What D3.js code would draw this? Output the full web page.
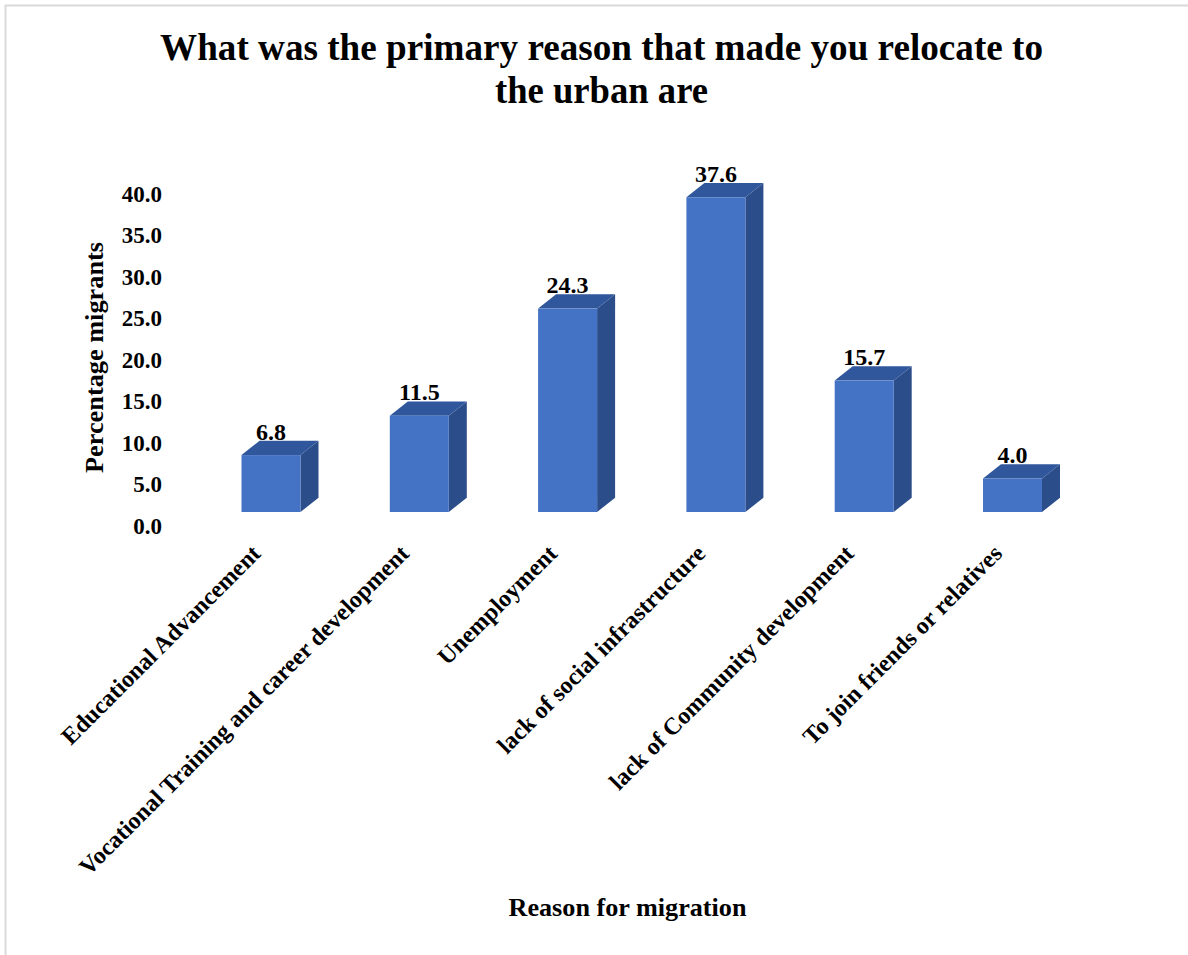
<!DOCTYPE html>
<html>
<head>
<meta charset="utf-8">
<script src="https://cdn.jsdelivr.net/npm/d3@7/dist/d3.min.js"></script>
<style>
  html, body { margin: 0; padding: 0; background: #ffffff; }
  svg { display: block; }
  text { font-family: "Liberation Serif", "Times New Roman", serif; font-weight: bold; fill: #000; }
</style>
</head>
<body>
<script>
// ---- data ----
const categories = [
  "Educational Advancement",
  "Vocational Training and career development",
  "Unemployment",
  "lack of social infrastructure",
  "lack of Community development",
  "To join friends or relatives"
];
const values = [6.8, 11.5, 24.3, 37.6, 15.7, 4.0];
const yTicks = [0, 5, 10, 15, 20, 25, 30, 35, 40];
const titleLines = ["What was the primary reason that made you relocate to", "the urban are"];
const yTitle = "Percentage migrants";
const xTitle = "Reason for migration";

// ---- layout ----
const W = 1188, H = 955;
const svg = d3.select("body").append("svg").attr("width", W).attr("height", H);
svg.append("rect").attr("width", W).attr("height", H).attr("fill", "#fff");

// outer frame (top & left visible)
svg.append("line").attr("x1", 5).attr("x2", W).attr("y1", 5.5).attr("y2", 5.5)
  .attr("stroke", "#d9d9d9").attr("stroke-width", 2);
svg.append("line").attr("x1", 5.5).attr("x2", 5.5).attr("y1", 5).attr("y2", H)
  .attr("stroke", "#d9d9d9").attr("stroke-width", 2);

// scales
const x = d3.scalePoint().domain(categories).range([271, 1012.5]);
const y = d3.scaleLinear().domain([0, 40]).range([512, 177.2]);       // bar front face
const yAxisScale = d3.scaleLinear().domain([0, 40]).range([525, 193]); // axis labels (3D wall)
const bw = 59, dx = 18, dy = 14.3;

// title
svg.append("text").attr("x", 601.5).attr("y", 60).attr("text-anchor", "middle")
  .style("font-size", "37px").attr("textLength", 883).attr("lengthAdjust", "spacingAndGlyphs")
  .text(titleLines[0]);
svg.append("text").attr("x", 601.5).attr("y", 103).attr("text-anchor", "middle")
  .style("font-size", "37px").attr("textLength", 213).attr("lengthAdjust", "spacingAndGlyphs")
  .text(titleLines[1]);

// y axis labels
const yAxis = d3.axisLeft(yAxisScale).tickValues(yTicks).tickFormat(d3.format(".1f")).tickSize(0).tickPadding(0);
const gy = svg.append("g").attr("transform", "translate(162,0)").call(yAxis);
gy.select(".domain").remove();
gy.selectAll("text").style("font-size", "23px").style("font-family", "'Liberation Serif', serif")
  .style("font-weight", "bold").attr("fill", "#000").attr("dy", "0.35em");

// y title
svg.append("text").attr("transform", "translate(103,357.5) rotate(-90)").attr("text-anchor", "middle")
  .style("font-size", "26px").attr("textLength", 231).attr("lengthAdjust", "spacingAndGlyphs")
  .text(yTitle);

// bars (3D)
const data = categories.map((c, i) => ({ c, v: values[i] }));
const bars = svg.append("g").selectAll("g").data(data).join("g");
bars.each(function(d) {
  const g = d3.select(this);
  const x0 = x(d.c) - bw / 2, x1 = x0 + bw;
  const yt = y(d.v), y0 = y(0);
  // side
  g.append("polygon")
    .attr("points", [[x1, yt], [x1 + dx, yt - dy], [x1 + dx, y0 - dy], [x1, y0]].map(p => p.join(",")).join(" "))
    .attr("fill", "#2b4d8a");
  // top
  g.append("polygon")
    .attr("points", [[x0, yt], [x0 + dx, yt - dy], [x1 + dx, yt - dy], [x1, yt]].map(p => p.join(",")).join(" "))
    .attr("fill", "#30579c");
  // front
  g.append("rect").attr("x", x0).attr("y", yt).attr("width", bw).attr("height", y0 - yt)
    .attr("fill", "#4472c4");
  // value label
  g.append("text").attr("x", x(d.c)).attr("y", yt - dy - 1).attr("text-anchor", "middle")
    .style("font-size", "24px").text(d3.format(".1f")(d.v));
});

// x category labels
svg.append("g").selectAll("text").data(categories).join("text")
  .attr("transform", d => `translate(${x(d) - 9},555) rotate(-45)`)
  .attr("text-anchor", "end")
  .style("font-size", "24px")
  .text(d => d);

// x title
svg.append("text").attr("x", 627.5).attr("y", 916).attr("text-anchor", "middle")
  .style("font-size", "26px").attr("textLength", 238).attr("lengthAdjust", "spacingAndGlyphs")
  .text(xTitle);
</script>
</body>
</html>
